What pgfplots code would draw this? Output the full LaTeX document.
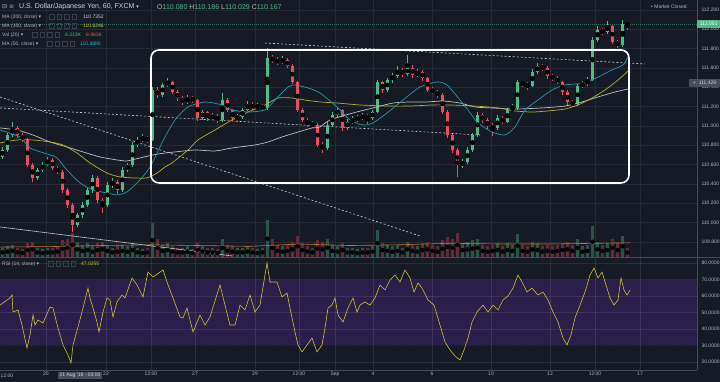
\documentclass[border=0pt]{standalone}
\usepackage{fontspec}
\setmainfont{Liberation Sans}
\newfontfamily\djv{DejaVu Sans}
\usepackage{pgfplots}
\usepackage{pgfplotstable}
\pgfplotsset{compat=1.18}
\definecolor{bg}{HTML}{161A25}
\definecolor{gridc}{HTML}{262A36}
\definecolor{sepc}{HTML}{474B57}
\definecolor{upc}{HTML}{53B987}
\definecolor{dnc}{HTML}{EB4D5C}
\definecolor{volup}{HTML}{2B5646}
\definecolor{voldn}{HTML}{642A37}
\definecolor{volma}{HTML}{C27433}
\definecolor{macyan}{HTML}{1E9AAE}
\definecolor{mayel}{HTML}{B8B026}
\definecolor{mawhite}{HTML}{C0C0C0}
\definecolor{rsiband}{HTML}{2A1F4B}
\definecolor{rsiline}{HTML}{D0C32A}
\definecolor{txt}{HTML}{B2B5BE}
\definecolor{hdr}{HTML}{D1D4DC}
\definecolor{lbl}{HTML}{4A4E5A}
\definecolor{curc}{HTML}{2F6E58}
\definecolor{boxc}{HTML}{3A3E4A}

\pgfplotstableread{
x o h l c v
2.5 110.679 110.780 110.660 110.751 6
7.5 110.751 110.930 110.730 110.906 7
12.5 110.906 111.041 110.890 110.979 8
17.5 110.979 111.000 110.880 110.906 6
22.5 110.906 110.930 110.830 110.855 5
27.5 110.855 110.870 110.570 110.596 9
32.5 110.596 110.620 110.420 110.462 10
37.5 110.462 110.570 110.440 110.544 6
42.5 110.544 110.630 110.520 110.596 5
47.5 110.596 110.679 110.580 110.648 6
52.5 110.648 110.670 110.540 110.565 6
57.5 110.565 110.590 110.500 110.524 7
62.5 110.524 110.540 110.310 110.337 11
67.5 110.337 110.360 110.150 110.182 12
72.5 110.182 110.200 109.903 109.975 16
77.5 109.975 110.100 109.950 110.079 10
82.5 110.079 110.210 110.050 110.182 8
87.5 110.182 110.370 110.160 110.337 9
92.5 110.337 110.490 110.310 110.462 7
97.5 110.462 110.480 110.200 110.234 9
102.5 110.234 110.260 110.100 110.182 10
107.5 110.182 110.420 110.160 110.389 8
112.5 110.389 110.460 110.360 110.420 6
117.5 110.420 110.440 110.300 110.337 7
122.5 110.337 110.570 110.320 110.544 8
127.5 110.544 110.620 110.520 110.596 7
132.5 110.596 110.830 110.580 110.803 9
137.5 110.803 110.890 110.780 110.855 6
142.5 110.855 110.920 110.830 110.875 5
147.5 110.875 110.900 110.820 110.855 6
152.5 110.855 111.400 110.840 111.372 22
157.5 111.372 111.400 111.290 111.320 12
162.5 111.320 111.450 111.300 111.424 8
167.5 111.424 111.496 111.400 111.455 9
172.5 111.455 111.470 111.330 111.351 7
177.5 111.351 111.370 111.260 111.289 6
182.5 111.289 111.310 111.220 111.248 6
187.5 111.248 111.320 111.230 111.289 7
192.5 111.289 111.310 111.240 111.268 5
197.5 111.268 111.280 111.050 111.082 9
202.5 111.082 111.170 111.060 111.144 7
207.5 111.144 111.160 111.050 111.082 6
212.5 111.082 111.130 111.060 111.103 6
217.5 111.103 111.120 111.030 111.062 5
222.5 111.062 111.341 111.040 111.268 12
227.5 111.268 111.290 111.140 111.165 8
232.5 111.165 111.180 111.050 111.082 7
237.5 111.082 111.120 111.040 111.090 6
242.5 111.090 111.190 111.070 111.165 6
247.5 111.165 111.260 111.150 111.227 7
252.5 111.227 111.250 111.160 111.186 6
257.5 111.186 111.240 111.170 111.206 5
262.5 111.206 111.230 111.160 111.186 6
267.5 111.186 111.806 111.170 111.703 24
272.5 111.703 111.740 111.650 111.682 12
277.5 111.682 111.710 111.630 111.662 8
282.5 111.662 111.720 111.640 111.682 7
287.5 111.682 111.700 111.600 111.620 8
292.5 111.620 111.640 111.430 111.455 10
297.5 111.455 111.470 111.140 111.165 14
302.5 111.165 111.190 111.040 111.062 9
307.5 111.062 111.080 110.990 111.020 7
312.5 111.020 111.050 110.980 111.010 6
317.5 111.010 111.030 110.780 110.803 11
322.5 110.803 110.830 110.720 110.772 10
327.5 110.772 111.040 110.750 111.010 12
332.5 111.010 111.140 110.990 111.113 8
337.5 111.113 111.200 111.090 111.165 7
342.5 111.165 111.180 110.950 110.979 9
347.5 110.979 111.070 110.960 111.041 6
352.5 111.041 111.100 111.020 111.062 6
357.5 111.062 111.110 111.040 111.082 5
362.5 111.082 111.130 111.060 111.103 6
367.5 111.103 111.120 111.020 111.082 6
372.5 111.082 111.170 111.060 111.144 7
377.5 111.144 111.480 111.130 111.455 18
382.5 111.455 111.470 111.340 111.372 9
387.5 111.372 111.500 111.350 111.475 8
392.5 111.475 111.550 111.450 111.517 7
397.5 111.517 111.620 111.500 111.579 8
402.5 111.579 111.600 111.510 111.537 6
407.5 111.537 111.734 111.520 111.600 10
412.5 111.600 111.630 111.500 111.527 8
417.5 111.527 111.590 111.510 111.558 7
422.5 111.558 111.580 111.470 111.496 9
427.5 111.496 111.510 111.350 111.372 10
432.5 111.372 111.400 111.330 111.351 8
437.5 111.351 111.370 111.290 111.320 7
442.5 111.320 111.340 111.120 111.144 11
447.5 111.144 111.160 110.880 110.906 13
452.5 110.906 110.920 110.720 110.751 12
457.5 110.751 110.770 110.472 110.596 16
462.5 110.596 110.660 110.560 110.627 9
467.5 110.627 110.780 110.610 110.751 10
472.5 110.751 110.930 110.730 110.906 11
477.5 110.906 111.140 110.890 111.113 12
482.5 111.113 111.130 111.030 111.062 8
487.5 111.062 111.080 110.970 111.000 7
492.5 111.000 111.030 110.900 110.979 8
497.5 110.979 111.110 110.960 111.082 9
502.5 111.082 111.100 111.020 111.041 7
507.5 111.041 111.190 111.030 111.165 9
512.5 111.165 111.230 111.150 111.186 8
517.5 111.186 111.480 111.170 111.455 15
522.5 111.455 111.470 111.400 111.434 8
527.5 111.434 111.460 111.370 111.413 7
532.5 111.413 111.590 111.400 111.558 10
537.5 111.558 111.650 111.540 111.620 9
542.5 111.620 111.640 111.570 111.600 7
547.5 111.600 111.620 111.490 111.517 8
552.5 111.517 111.540 111.470 111.496 7
557.5 111.496 111.520 111.430 111.455 8
562.5 111.455 111.470 111.320 111.351 9
567.5 111.351 111.370 111.220 111.248 10
572.5 111.248 111.270 111.200 111.227 8
577.5 111.227 111.440 111.210 111.413 12
582.5 111.413 111.470 111.390 111.434 7
587.5 111.434 111.510 111.410 111.475 8
592.5 111.475 111.920 111.460 111.889 20
597.5 111.889 112.030 111.870 111.993 10
602.5 111.993 112.010 111.940 111.972 8
607.5 111.972 112.090 111.950 112.034 9
612.5 112.034 112.050 111.850 111.869 12
617.5 111.869 111.890 111.810 111.837 9
622.5 111.837 112.100 111.820 112.055 14
627.5 112.055 112.080 111.990 112.051 6
}\candles

\pgfplotstableread{
x m
0 6.5
50 6.8
100 7.5
150 8.0
200 7.5
250 7.0
300 8.5
350 7.5
400 8.0
450 9.0
500 8.5
550 8.5
600 9.0
630 9.3
}\volmatab

\newcommand{\fourboxes}[2]{\foreach \k in {0,1,2,3}{\node[draw=boxc, line width=0.4pt, minimum size=4.6pt, inner sep=0pt] at ({#1+2.5+7.5*\k},#2) {};}}

\begin{document}
\begin{tikzpicture}[x=1pt,y=1pt]
\path[use as bounding box] (0,0) rectangle (720,382);
\fill[bg] (0,0) rectangle (720,382);

% ---------- price panel (with volume at its foot) ----------
\begin{axis}[at={(0pt,125pt)}, anchor=south west, width=697pt, height=257pt, scale only axis,
  xmin=0, xmax=697, ymin=109.644, ymax=112.303,
  axis line style={draw=none}, tick style={draw=none},
  xtick={46,106,151,195,255,299,335,373,432,491,550,595,640}, xticklabels={},
  ytick={109.8,110,110.2,110.4,110.6,110.8,111,111.2,111.4,111.6,111.8,112,112.2},
  yticklabel pos=right,
  grid=major, major grid style={gridc, line width=0.5pt},
  yticklabel style={font=\fontsize{5}{6}\selectfont, text=txt, anchor=west, xshift=1pt,
    /pgf/number format/.cd, fixed, fixed zerofill, precision=3, 1000 sep={}},
  /pgf/number format/assume math mode=true]
% current price line
\addplot[curc, line width=0.6pt, dash pattern=on 1pt off 1pt] coordinates {(0,112.051) (697,112.051)};
% volume bars (in thousands, 1K = 0.0158 price units of panel height)
\addplot[only marks, mark=none, restrict expr to domain={\thisrow{c}-\thisrow{o}}{0:10},
  error bars/.cd, y dir=both, y explicit, error mark=none, error bar style={volup, line width=3.2pt}]
  table[x=x, y expr={109.644+\thisrow{v}*0.0079}, y error expr={\thisrow{v}*0.0079}] {\candles};
\addplot[only marks, mark=none, restrict expr to domain={\thisrow{c}-\thisrow{o}}{-10:-0.00001},
  error bars/.cd, y dir=both, y explicit, error mark=none, error bar style={voldn, line width=3.2pt}]
  table[x=x, y expr={109.644+\thisrow{v}*0.0079}, y error expr={\thisrow{v}*0.0079}] {\candles};
\addplot[volma, line width=0.6pt] table[x=x, y expr={109.644+\thisrow{m}*0.0158}] {\volmatab};
% trend lines
\addplot[white!80!bg, line width=0.6pt, dash pattern=on 2pt off 2pt] coordinates {(0,111.300) (420,109.862)};
\addplot[white!80!bg, line width=0.6pt, dash pattern=on 2pt off 2pt] coordinates {(0,111.186) (480,110.906)};
\addplot[white!80!bg, line width=0.6pt, dash pattern=on 2pt off 2pt] coordinates {(265,111.858) (645,111.641)};
\addplot[white!75!bg, line width=0.6pt] coordinates {(0,109.955) (232,109.655)};
% candle wicks and bodies
\addplot[only marks, mark=none, restrict expr to domain={\thisrow{c}-\thisrow{o}}{0:10},
  error bars/.cd, y dir=both, y explicit, error mark=none, error bar style={upc, line width=0.7pt}]
  table[x=x, y expr={(\thisrow{h}+\thisrow{l})/2}, y error expr={(\thisrow{h}-\thisrow{l})/2}] {\candles};
\addplot[only marks, mark=none, restrict expr to domain={\thisrow{c}-\thisrow{o}}{-10:-0.00001},
  error bars/.cd, y dir=both, y explicit, error mark=none, error bar style={dnc, line width=0.7pt}]
  table[x=x, y expr={(\thisrow{h}+\thisrow{l})/2}, y error expr={(\thisrow{h}-\thisrow{l})/2}] {\candles};
\addplot[only marks, mark=none, restrict expr to domain={\thisrow{c}-\thisrow{o}}{0:10},
  error bars/.cd, y dir=both, y explicit, error mark=none, error bar style={upc, line width=2.6pt}]
  table[x=x, y expr={(\thisrow{o}+\thisrow{c})/2}, y error expr={max(abs(\thisrow{c}-\thisrow{o})/2,0.008)}] {\candles};
\addplot[only marks, mark=none, restrict expr to domain={\thisrow{c}-\thisrow{o}}{-10:-0.00001},
  error bars/.cd, y dir=both, y explicit, error mark=none, error bar style={dnc, line width=2.6pt}]
  table[x=x, y expr={(\thisrow{o}+\thisrow{c})/2}, y error expr={max(abs(\thisrow{c}-\thisrow{o})/2,0.008)}] {\candles};
% moving averages
\addplot[mawhite, line width=0.7pt, smooth, tension=0.4] coordinates {(0,110.979)(17,110.958)(33,110.906)(50,110.834)(67,110.782)(83,110.731)(100,110.679)(117,110.648)(127,110.638)(140,110.669)(153,110.700)(165,110.720)(175,110.731)(195,110.751)(215,110.741)(232,110.772)(255,110.803)(268,110.834)(282,110.886)(298,110.937)(312,110.979)(320,110.989)(330,111.062)(353,111.134)(373,111.186)(393,111.237)(410,111.248)(427,111.248)(443,111.258)(460,111.237)(475,111.196)(492,111.186)(515,111.175)(542,111.186)(565,111.206)(582,111.248)(598,111.300)(615,111.351)(628,111.382)};
\addplot[mayel, line width=0.7pt, smooth, tension=0.4] coordinates {(0,110.824)(17,110.855)(33,110.855)(50,110.834)(63,110.803)(77,110.720)(90,110.617)(107,110.513)(120,110.472)(133,110.462)(147,110.462)(157,110.513)(165,110.575)(172,110.617)(188,110.751)(198,110.855)(215,110.958)(232,111.062)(248,111.144)(265,111.217)(278,111.289)(292,111.289)(305,111.268)(320,111.248)(337,111.237)(360,111.217)(387,111.206)(410,111.206)(433,111.217)(450,111.217)(475,111.206)(498,111.186)(515,111.155)(532,111.144)(548,111.155)(565,111.175)(578,111.217)(592,111.289)(605,111.372)(618,111.475)(628,111.568)};
\addplot[macyan, line width=0.7pt, smooth, tension=0.4] coordinates {(0,110.958)(20,110.886)(30,110.772)(50,110.700)(57,110.669)(67,110.544)(80,110.410)(93,110.337)(107,110.306)(117,110.286)(127,110.317)(140,110.441)(150,110.575)(160,110.782)(165,110.886)(175,111.062)(188,111.196)(205,111.248)(222,111.217)(232,111.165)(248,111.144)(265,111.165)(275,111.268)(288,111.403)(295,111.424)(308,111.393)(320,111.341)(337,111.196)(350,111.062)(363,111.010)(373,111.031)(387,111.134)(403,111.268)(420,111.403)(437,111.455)(447,111.424)(460,111.268)(468,111.165)(478,111.031)(492,110.937)(505,110.906)(515,110.989)(525,111.165)(538,111.268)(552,111.372)(565,111.424)(585,111.444)(598,111.506)(612,111.579)(623,111.631)(628,111.713)};
% range box
\draw[white, line width=1.6pt, rounded corners=8pt] (axis cs:151,111.786) rectangle (axis cs:629,110.410);
\end{axis}

% ---------- RSI panel ----------
\begin{axis}[at={(0pt,12pt)}, anchor=south west, width=697pt, height=112pt, scale only axis,
  axis on top,
  xmin=0, xmax=697, ymin=15.15, ymax=83.03,
  axis line style={draw=none}, tick style={draw=none},
  xtick={46,106,151,195,255,299,335,373,432,491,550,595,640},
  xticklabels={20,22,12:00,27,29,12:00,Sep,4,6,10,12,12:00,17},
  xticklabel style={font=\fontsize{5}{6}\selectfont, text=txt, inner sep=0.8pt, yshift=-1.2pt},
  ytick={20,40,50,60,80},
  extra y ticks={30,70},
  extra y tick style={major grid style={white!55!bg, line width=0.6pt, dash pattern=on 3pt off 2pt}},
  yticklabel pos=right,
  grid=major, major grid style={white, opacity=0.09, line width=0.5pt},
  yticklabel style={font=\fontsize{5}{6}\selectfont, text=txt, anchor=west, xshift=1pt,
    /pgf/number format/.cd, fixed, fixed zerofill, precision=4, 1000 sep={}},
  /pgf/number format/assume math mode=true]
\addplot[fill=rsiband, draw=none] coordinates {(0,30) (697,30) (697,70) (0,70)} -- cycle;
\addplot[rsiline, line width=0.6pt] coordinates {(0,54.5)(3,55.8)(10,58.8)(12,60.6)(13,50.3)(18,51.5)(22,42.4)(27,28.5)(30,36.4)(33,48.5)(35,42.4)(38,45.5)(43,43.6)(50,53.3)(53,52.7)(58,40.6)(63,30.3)(68,24.2)(71,19.4)(73,30.3)(78,41.2)(82,50.3)(88,64.8)(90,58.8)(93,52.7)(97,44.2)(99,38.2)(103,50.3)(107,58.8)(110,57.6)(113,47.3)(117,56.4)(122,60.6)(125,58.8)(132,70.9)(137,66.7)(143,59.4)(148,74.5)(153,71.5)(160,74.5)(163,75.8)(167,68.5)(170,63.6)(173,58.8)(180,47.3)(183,46.7)(187,52.7)(193,38.2)(200,48.5)(205,42.4)(210,47.3)(220,66.7)(225,54.5)(230,42.4)(235,42.4)(240,54.5)(245,51.5)(250,60.6)(255,50.3)(260,54.5)(267,80.0)(270,68.5)(277,68.5)(282,59.4)(287,61.8)(290,52.7)(295,38.2)(298,30.3)(302,26.1)(307,30.3)(312,34.5)(317,26.1)(322,30.3)(325,40.6)(328,52.7)(332,54.5)(335,58.8)(338,48.5)(343,44.2)(348,52.7)(353,58.8)(357,50.3)(360,54.5)(365,56.4)(370,54.5)(375,58.8)(380,66.7)(385,63.6)(390,69.7)(395,72.7)(400,68.5)(405,75.8)(410,70.9)(414,62.4)(418,67.9)(422,64.8)(428,57.6)(434,54.5)(440,42.4)(445,32.1)(450,27.3)(455,23.6)(460,21.2)(464,27.3)(468,34.5)(472,44.2)(477,50.3)(483,54.5)(488,50.3)(493,54.5)(498,51.5)(503,57.6)(508,60.0)(513,64.8)(518,72.7)(522,68.5)(527,62.4)(532,64.8)(538,60.6)(543,62.4)(548,57.6)(553,50.3)(558,44.2)(563,34.5)(567,30.3)(571,36.4)(575,46.7)(580,54.5)(585,62.4)(590,72.7)(594,77.0)(598,70.9)(602,74.5)(606,66.7)(610,58.8)(614,54.5)(618,57.6)(621,70.9)(624,63.6)(627,60.6)(630,63.6)};
\end{axis}

% ---------- frame lines ----------
\draw[sepc, line width=0.6pt] (697,12) -- (697,382);
\draw[sepc, line width=0.6pt] (0,124.5) -- (720,124.5);
\draw[sepc, line width=0.6pt] (0,12) -- (697,12);

% ---------- time axis extras ----------
\node[text=txt, font=\fontsize{5}{6}\selectfont, inner sep=0.5pt] at (7,6.5) {12:00};
\node[fill=lbl, text=hdr, font=\fontsize{5}{6}\selectfont, inner sep=1.4pt] at (80,6.5) {21 Aug '18 - 03:00};

% ---------- price labels ----------
\node[fill=upc, text=white, font=\fontsize{5}{6}\selectfont, anchor=west, minimum width=23pt, minimum height=8.5pt, inner sep=1pt] at (697,358) {112.051};
\node[fill=lbl, text=hdr, font=\fontsize{5}{6}\selectfont, anchor=west, minimum width=31pt, minimum height=8.5pt, inner sep=1pt] at (689,299) {+\ \ 111.429};
\node[text=txt, font=\fontsize{5}{6}\selectfont, anchor=west, inner sep=0pt] at (651,375) {\textbullet\ Market Closed};

% ---------- header ----------
\node[text=txt, font=\fontsize{6}{7}\selectfont, anchor=west, inner sep=0pt] at (2,375) {\djv ⊟ ≡};
\node[text=hdr, font=\fontsize{7}{8}\selectfont, anchor=west, inner sep=0pt] at (19,375) {U.S. Dollar/Japanese Yen, 60, FXCM {\djv\fontsize{5}{6}\selectfont ▾}};
\node[font=\fontsize{7}{8}\selectfont, anchor=west, inner sep=0pt] at (157,375) {\textcolor{txt}{O}\textcolor{upc}{110.080} \textcolor{txt}{H}\textcolor{upc}{110.186} \textcolor{txt}{L}\textcolor{upc}{110.029} \textcolor{txt}{C}\textcolor{upc}{110.167}};

\node[text=txt, font=\fontsize{5}{6}\selectfont, anchor=west, inner sep=0pt] at (2,365) {MA (200, close) {\djv ▾}};
\fourboxes{49}{365}
\node[text=hdr, font=\fontsize{5}{6}\selectfont, anchor=west, inner sep=0pt] at (83,365) {110.7352};

\node[text=txt, font=\fontsize{5}{6}\selectfont, anchor=west, inner sep=0pt] at (2,356) {MA (100, close) {\djv ▾}};
\fourboxes{49}{356}
\node[text=mayel!70!yellow, font=\fontsize{5}{6}\selectfont, anchor=west, inner sep=0pt] at (83,356) {110.6246};

\node[text=txt, font=\fontsize{5}{6}\selectfont, anchor=west, inner sep=0pt] at (2,347) {Vol (20) {\djv ▾}};
\fourboxes{32}{347}
\node[text=upc, font=\fontsize{5}{6}\selectfont, anchor=west, inner sep=0pt] at (65,347) {8.313K};
\node[text=volma, font=\fontsize{5}{6}\selectfont, anchor=west, inner sep=0pt] at (86,347) {8.963K};

\node[text=txt, font=\fontsize{5}{6}\selectfont, anchor=west, inner sep=0pt] at (2,338) {MA (50, close) {\djv ▾}};
\fourboxes{47}{338}
\node[text=macyan!60!cyan, font=\fontsize{5}{6}\selectfont, anchor=west, inner sep=0pt] at (80,338) {110.3890};

\node[text=txt, font=\fontsize{5}{6}\selectfont, anchor=west, inner sep=0pt] at (2,118) {RSI (14, close) {\djv ▾}};
\fourboxes{48}{118}
\node[text=rsiline, font=\fontsize{5}{6}\selectfont, anchor=west, inner sep=0pt] at (81,118) {47.0255};
\end{tikzpicture}
\end{document}
